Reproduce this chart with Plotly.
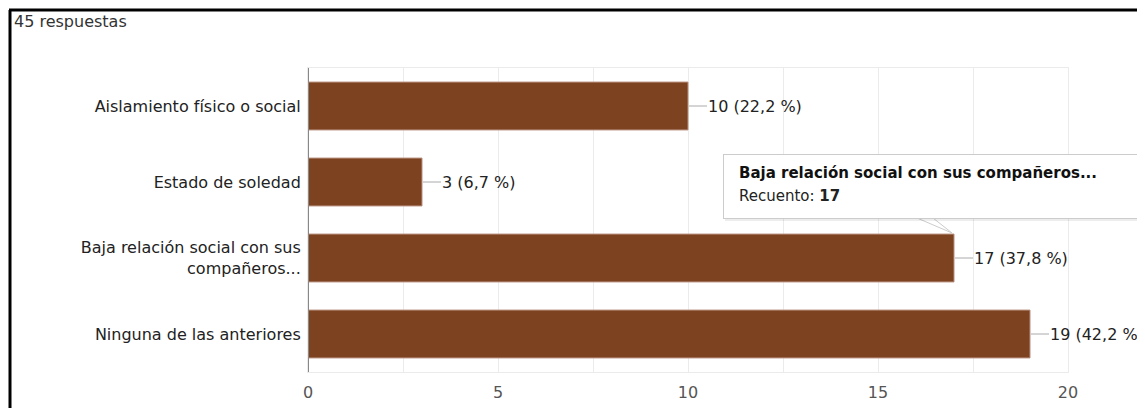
import plotly.graph_objects as go

categories = ["Aislamiento físico o social", "Estado de soledad",
              "Baja relación social con sus<br>compañeros...", "Ninguna de las anteriores"]
counts = [10, 3, 17, 19]
percent_labels = ["22,2 %", "6,7 %", "37,8 %", "42,2 %"]
tick_values = [0, 5, 10, 15, 20]
total_label = "45 respuestas"
tooltip_title = "Baja relación social con sus compañeros..."
tooltip_index = 2

# page body has an 8px margin; figure coordinates are offset by it
W, H = 1137, 400
L, R, T, B = 300, 77, 60, 36
pw = W - L - R
ph = H - T - B

font = "DejaVu Sans, sans-serif"
FS = 16

fig = go.Figure()
fig.add_trace(go.Bar(
    y=categories, x=counts, orientation="h",
    marker=dict(color="#7d4321", line=dict(color="#b89080", width=1)),
    hoverinfo="skip",
))

annotations = []
shapes = []
for c, v, p in zip(categories, counts, percent_labels):
    shapes.append(dict(type="line", xref="x", yref="y", xsizemode="pixel",
                       xanchor=v, x0=1, x1=19, y0=c, y1=c,
                       line=dict(color="#aaaaaa", width=1)))
    annotations.append(dict(x=v, y=c, xref="x", yref="y", text=f"{v} ({p})",
                            showarrow=False, xanchor="left", xshift=18,
                            font=dict(family=font, size=FS, color="#222222")))

annotations.append(dict(x=(4 - L) / pw, y=1 + (T - 13) / ph, xref="paper", yref="paper",
                        text=total_label, showarrow=False, xanchor="left", yanchor="middle",
                        font=dict(family=font, size=FS, color="#333333")))

# tooltip (pixel offsets relative to end of the bar; y up is positive)
tc = categories[tooltip_index]
tv = counts[tooltip_index]
# shadow
annotations.append(dict(x=tv, y=tc, xref="x", yref="y", showarrow=False,
                        xanchor="left", yanchor="bottom", xshift=-229, yshift=37,
                        text=" ", width=430, height=63, bgcolor="rgba(0,0,0,0.07)",
                        borderwidth=0, borderpad=0))
# box
annotations.append(dict(x=tv, y=tc, xref="x", yref="y", showarrow=False,
                        xanchor="left", yanchor="bottom", xshift=-231, yshift=39,
                        text=" ", width=430, height=63, bgcolor="white",
                        bordercolor="#cccccc", borderwidth=1, borderpad=0))
shapes.append(dict(type="path", xref="x", yref="y", xsizemode="pixel", ysizemode="pixel",
                   xanchor=tv, yanchor=tc,
                   path="M -37,40 L -2,25 L -21,40 Z",
                   fillcolor="white", line=dict(color="#cccccc", width=1), layer="above"))
shapes.append(dict(type="line", xref="x", yref="y", xsizemode="pixel", ysizemode="pixel",
                   xanchor=tv, yanchor=tc, x0=-36, x1=-22, y0=40.5, y1=40.5,
                   line=dict(color="white", width=2), layer="above"))
annotations.append(dict(x=tv, y=tc, xref="x", yref="y", showarrow=False,
                        xanchor="left", yanchor="middle", xshift=-217, yshift=85,
                        text=f"<b>{tooltip_title}</b>",
                        font=dict(family=font, size=FS - 1, color="#111111")))
annotations.append(dict(x=tv, y=tc, xref="x", yref="y", showarrow=False,
                        xanchor="left", yanchor="middle", xshift=-217, yshift=62,
                        text=f"Recuento: <b>{tv}</b>",
                        font=dict(family=font, size=FS - 1, color="#222222")))

# outer frame
shapes.append(dict(type="line", xref="paper", yref="paper",
                   x0=(1 - L) / pw, x1=(W + 5 - L) / pw, y0=1 + (T - 2) / ph, y1=1 + (T - 2) / ph,
                   line=dict(color="black", width=3)))
shapes.append(dict(type="line", xref="paper", yref="paper",
                   x0=(2 - L) / pw, x1=(2 - L) / pw, y0=1 + (T - 2) / ph, y1=-(B + 5) / ph,
                   line=dict(color="black", width=3)))

fig.update_layout(
    width=W, height=H, margin=dict(l=L, r=R, t=T, b=B, autoexpand=False),
    paper_bgcolor="white", plot_bgcolor="white",
    showlegend=False, bargap=0.37,
    font=dict(family=font, size=FS, color="#222222"),
    annotations=annotations, shapes=shapes,
    xaxis=dict(range=[0, 20], tickvals=tick_values, showgrid=True, gridcolor="#ebebeb",
               minor=dict(dtick=2.5, showgrid=True, gridcolor="#ebebeb"),
               zeroline=False, showline=True, linecolor="#ebebeb", mirror=True, automargin=False,
               ticks="", tickfont=dict(family=font, size=FS, color="#555555"), ticklabelstandoff=6),
    yaxis=dict(autorange="reversed", showgrid=False, zeroline=False, automargin=False,
               showline=True, linecolor="#ebebeb", mirror=True, ticks="",
               tickfont=dict(family=font, size=FS, color="#222222"), ticklabelstandoff=3),
)
fig.add_vline(x=0, line=dict(color="#888888", width=2))

fig.write_html("out.html")
